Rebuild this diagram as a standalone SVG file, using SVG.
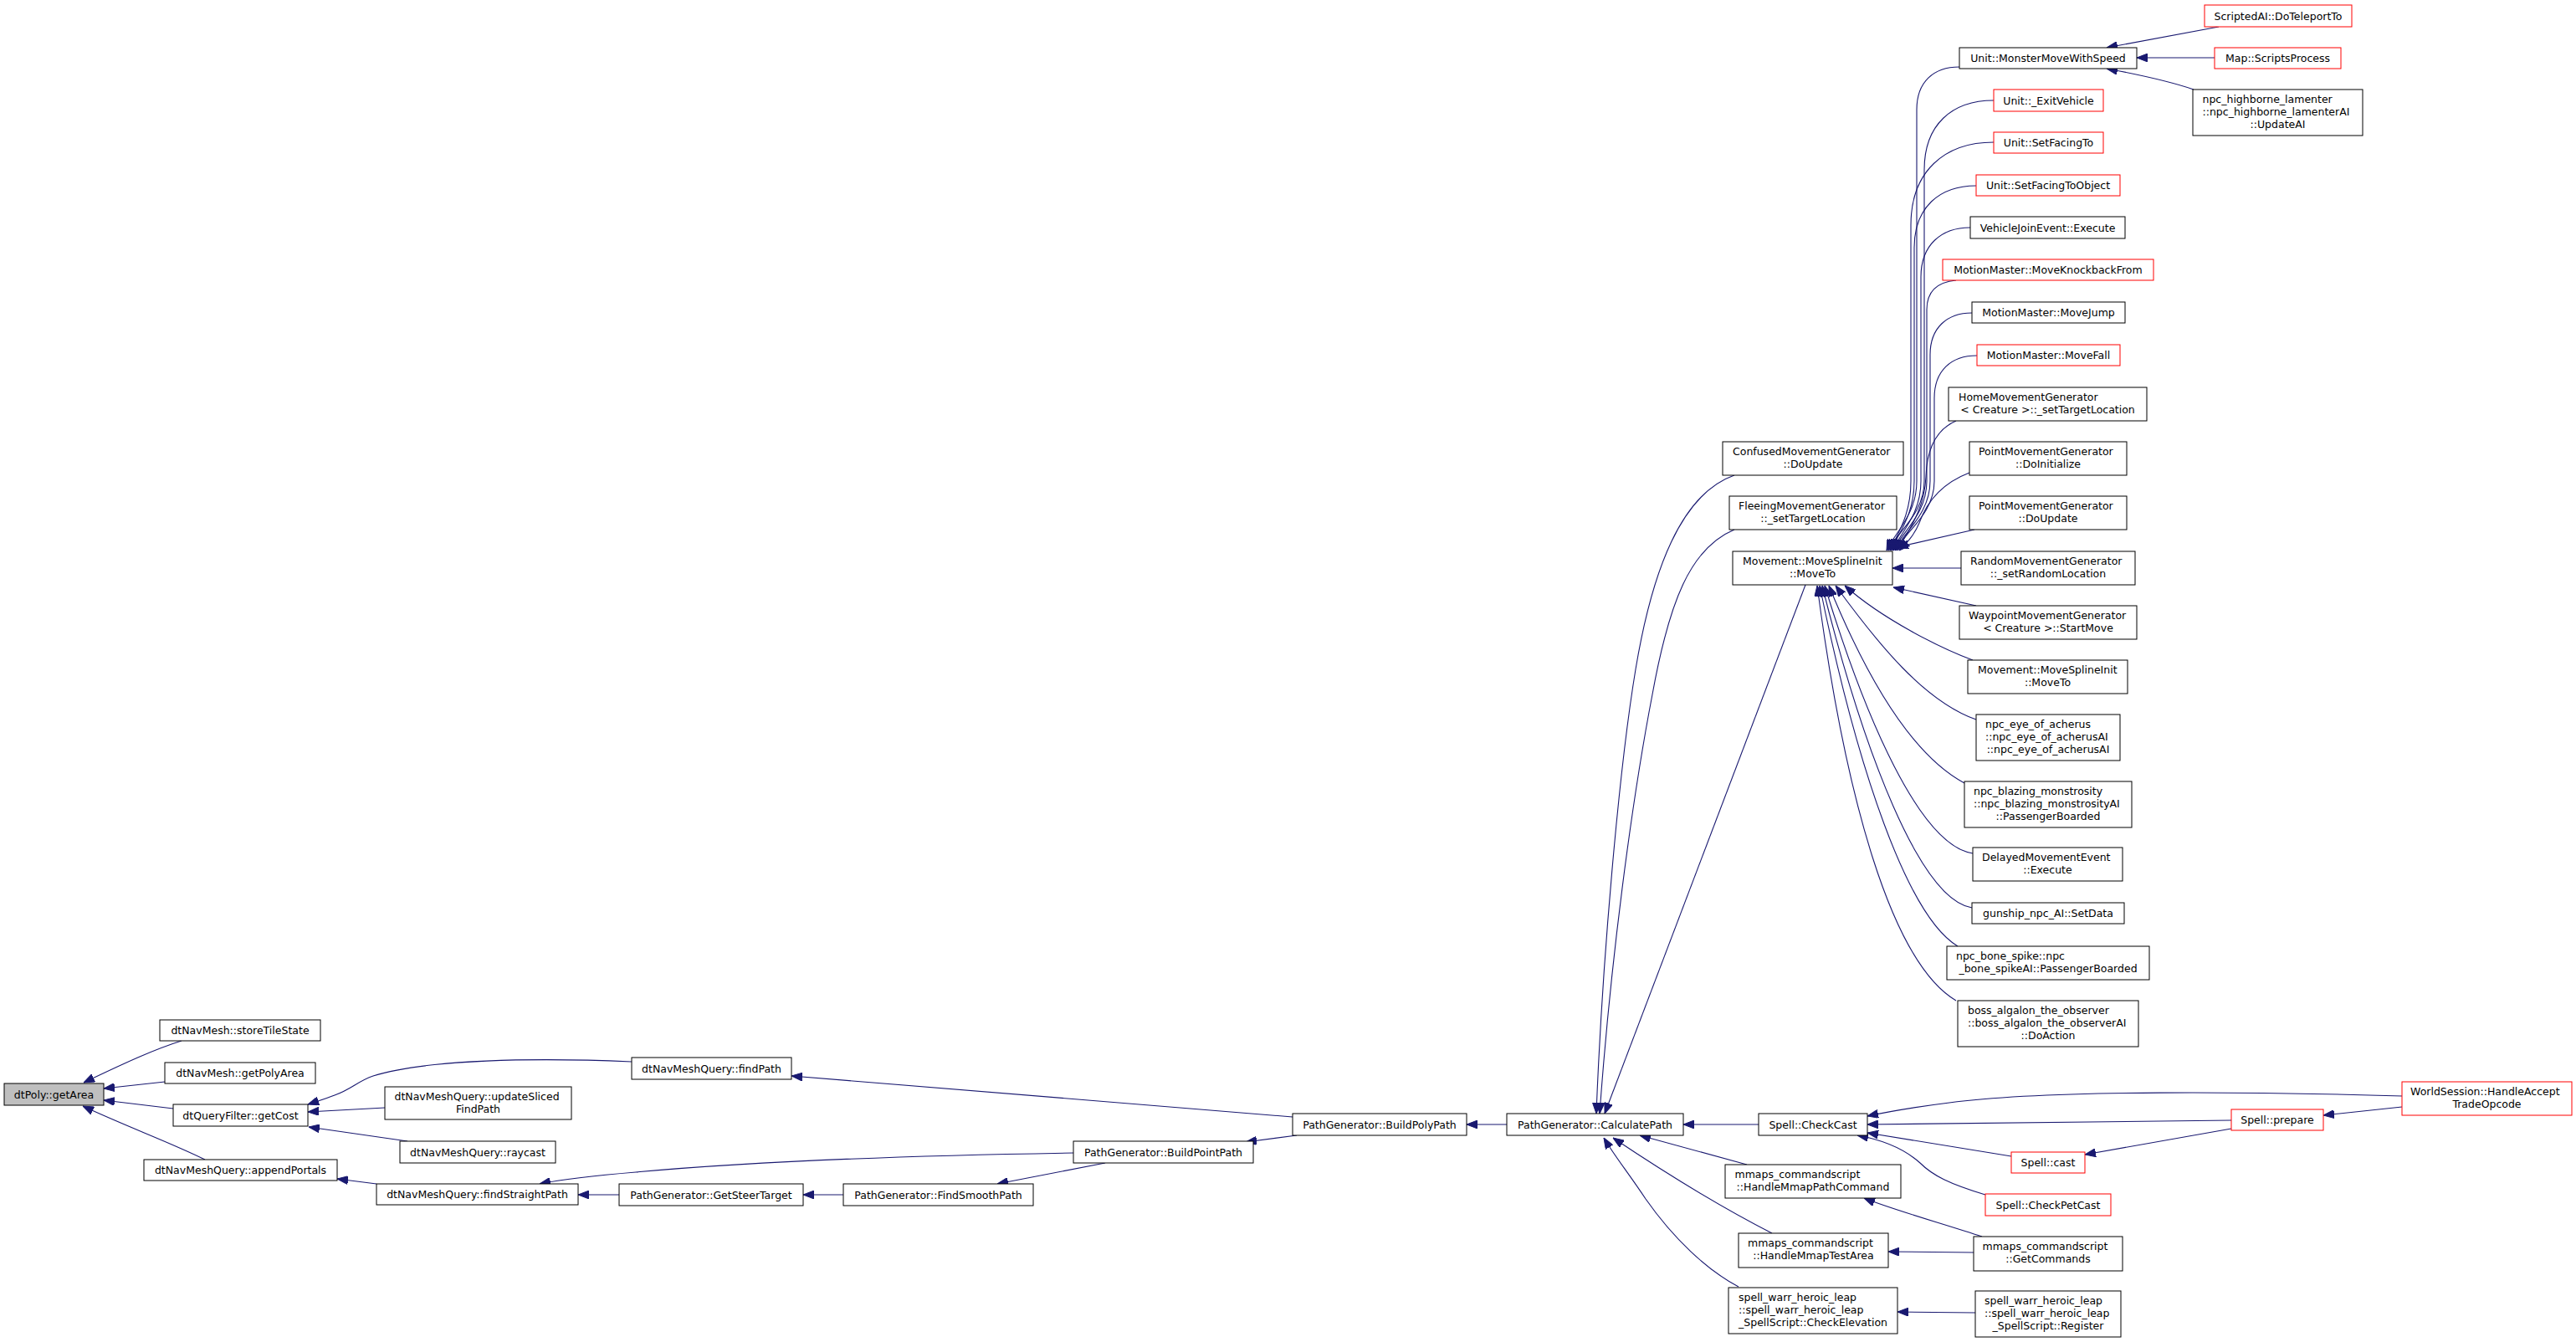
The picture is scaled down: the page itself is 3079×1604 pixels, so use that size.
<svg xmlns="http://www.w3.org/2000/svg" width="3079" height="1604" viewBox="0 0 3079 1604">
<style>
.node rect{fill:#fff;stroke:#000;stroke-width:1}
.node.red rect{stroke:#ff0000}
.node.cur rect{fill:#bfbfbf}
text{font-family:"DejaVu Sans","Liberation Sans",sans-serif;font-size:12.5px;fill:#000}
.m{text-anchor:middle}
.s{text-anchor:start}
#edges path{fill:none;stroke:#191970;stroke-width:1.1;marker-end:url(#arr)}
</style>
<defs>
<marker id="arr" viewBox="0 0 13 10" markerUnits="userSpaceOnUse" markerWidth="13" markerHeight="10" refX="13" refY="5" orient="auto">
<path d="M0,0 L13,5 L0,10 z" fill="#191970" stroke="#191970"/>
</marker>
</defs>
<rect x="0" y="0" width="3079" height="1604" fill="#fff"/>
<g id="edges">
<path d="M217,1244 C185,1254 150,1270 100,1294"/>
<path d="M197,1293 L124,1301"/>
<path d="M207,1325 L124,1315"/>
<path d="M245,1386 C205,1366 150,1346 99,1322"/>
<path d="M755,1269 C640,1264 510,1266 446,1286 C428,1292 420,1302 400,1309 C390,1313 380,1316 368,1320"/>
<path d="M460,1324 L368,1329"/>
<path d="M487,1364 L369,1347"/>
<path d="M450,1415 L403,1409"/>
<path d="M1283,1378 C1100,1381 900,1388 760,1401 C700,1406 670,1410 645,1415"/>
<path d="M740,1428 L691,1428"/>
<path d="M1545,1335 L946,1286"/>
<path d="M1550,1357 L1489,1365"/>
<path d="M1008,1428 L960,1428"/>
<path d="M1321,1390 L1192,1415"/>
<path d="M1801,1344 L1753,1344"/>
<path d="M2102,1344 L2012,1344"/>
<path d="M2073,568 C2010,590 1975,680 1955,800 C1935,920 1915,1150 1908,1331"/>
<path d="M2073,633 C2020,655 1995,720 1975,830 C1950,960 1925,1150 1912,1331"/>
<path d="M2158,699 L1918,1331"/>
<path d="M2088,1392 L1960,1357"/>
<path d="M2118,1474 C2075,1452 2010,1415 1928,1360"/>
<path d="M2078,1538 C2040,1518 2000,1480 1967,1433 C1945,1400 1930,1382 1917,1360"/>
<path d="M2871,1310 C2700,1305 2450,1302 2330,1318 C2290,1323 2260,1328 2232,1334"/>
<path d="M2667,1339 L2232,1344"/>
<path d="M2404,1382 L2232,1354"/>
<path d="M2373,1428 C2330,1415 2310,1405 2295,1390 C2275,1372 2248,1362 2220,1357"/>
<path d="M2871,1323 L2777,1333"/>
<path d="M2667,1349 L2492,1380"/>
<path d="M2369,1478 C2320,1462 2260,1445 2228,1432"/>
<path d="M2359,1497 L2257,1496"/>
<path d="M2361,1569 L2268,1568"/>
<path d="M2652,32 L2518,57"/>
<path d="M2647,69 L2554,69"/>
<path d="M2622,107 C2590,96 2550,88 2518,82"/>
<path d="M2342,80 C2311,80 2291,98 2291,131 L2291,575 C2291,615 2265,636 2255,658"/>
<path d="M2383,120 C2333,120 2300,149 2300,203 L2300,575 C2300,615 2267,636 2257,658"/>
<path d="M2383,170 C2324,170 2284,205 2284,269 L2284,575 C2284,615 2269,636 2259,658"/>
<path d="M2362,222 C2318,222 2288,248 2288,296 L2288,575 C2288,615 2270,636 2260,658"/>
<path d="M2355,272 C2320,272 2296,293 2296,331 L2296,575 C2296,615 2272,636 2262,658"/>
<path d="M2338,335 C2317,337 2303,347 2303,370 L2303,575 C2303,615 2273,636 2263,658"/>
<path d="M2357,374 C2327,374 2307,392 2307,424 L2307,575 C2307,615 2275,636 2265,658"/>
<path d="M2363,425 C2332,425 2312,443 2312,476 L2312,575 C2312,615 2276,636 2266,658"/>
<path d="M2338,503 C2315,513 2303,535 2302,570 C2300,612 2278,638 2268,658"/>
<path d="M2354,565 C2320,578 2303,600 2294,625 C2288,640 2278,650 2270,658"/>
<path d="M2360,633 L2268,654"/>
<path d="M2344,679 L2262,679"/>
<path d="M2362,724 L2263,702"/>
<path d="M2358,789 C2320,775 2250,740 2205,700"/>
<path d="M2362,860 C2300,838 2245,770 2194,700"/>
<path d="M2348,936 C2290,905 2235,820 2186,700"/>
<path d="M2358,1020 C2295,1010 2230,860 2181,700"/>
<path d="M2357,1085 C2295,1075 2228,900 2178,700"/>
<path d="M2340,1131 C2280,1095 2220,920 2175,700"/>
<path d="M2338,1196 C2260,1150 2205,950 2172,700"/>
</g>
<g id="n_getArea" class="node cur"><rect x="5" y="1295" width="119" height="26"/><text class="m" x="64.5" y="1312.5">dtPoly::getArea</text></g>
<g id="n_storeTileState" class="node"><rect x="191" y="1219" width="192" height="25"/><text class="m" x="287" y="1236">dtNavMesh::storeTileState</text></g>
<g id="n_getPolyArea" class="node"><rect x="197" y="1270" width="180" height="25"/><text class="m" x="287" y="1287">dtNavMesh::getPolyArea</text></g>
<g id="n_getCost" class="node"><rect x="207" y="1320" width="161" height="26"/><text class="m" x="287.5" y="1337.5">dtQueryFilter::getCost</text></g>
<g id="n_appendPortals" class="node"><rect x="172" y="1386" width="231" height="25"/><text class="m" x="287.5" y="1403">dtNavMeshQuery::appendPortals</text></g>
<g id="n_updateSliced" class="node"><rect x="460" y="1299" width="223" height="39"/><text class="s" x="471.5" y="1315">dtNavMeshQuery::updateSliced</text><text class="m" x="571.5" y="1330">FindPath</text></g>
<g id="n_raycast" class="node"><rect x="478" y="1364" width="186" height="26"/><text class="m" x="571" y="1381.5">dtNavMeshQuery::raycast</text></g>
<g id="n_findStraightPath" class="node"><rect x="450" y="1415" width="241" height="25"/><text class="m" x="570.5" y="1432">dtNavMeshQuery::findStraightPath</text></g>
<g id="n_findPath" class="node"><rect x="755" y="1264" width="191" height="26"/><text class="m" x="850.5" y="1281.5">dtNavMeshQuery::findPath</text></g>
<g id="n_BuildPolyPath" class="node"><rect x="1545" y="1331" width="208" height="26"/><text class="m" x="1649" y="1348.5">PathGenerator::BuildPolyPath</text></g>
<g id="n_BuildPointPath" class="node"><rect x="1283" y="1364" width="215" height="26"/><text class="m" x="1390.5" y="1381.5">PathGenerator::BuildPointPath</text></g>
<g id="n_GetSteerTarget" class="node"><rect x="740" y="1415" width="220" height="26"/><text class="m" x="850" y="1432.5">PathGenerator::GetSteerTarget</text></g>
<g id="n_FindSmoothPath" class="node"><rect x="1008" y="1415" width="227" height="26"/><text class="m" x="1121.5" y="1432.5">PathGenerator::FindSmoothPath</text></g>
<g id="n_CalculatePath" class="node"><rect x="1801" y="1331" width="211" height="26"/><text class="m" x="1906.5" y="1348.5">PathGenerator::CalculatePath</text></g>
<g id="n_CheckCast" class="node"><rect x="2102" y="1331" width="130" height="26"/><text class="m" x="2167" y="1348.5">Spell::CheckCast</text></g>
<g id="n_HandleAcceptTrade" class="node red"><rect x="2871" y="1293" width="203" height="40"/><text class="s" x="2881" y="1309">WorldSession::HandleAccept</text><text class="m" x="2972.5" y="1324">TradeOpcode</text></g>
<g id="n_prepare" class="node red"><rect x="2667" y="1326" width="110" height="25"/><text class="m" x="2722" y="1343">Spell::prepare</text></g>
<g id="n_cast" class="node red"><rect x="2404" y="1377" width="88" height="25"/><text class="m" x="2448" y="1394">Spell::cast</text></g>
<g id="n_CheckPetCast" class="node red"><rect x="2373" y="1427" width="150" height="26"/><text class="m" x="2448" y="1444.5">Spell::CheckPetCast</text></g>
<g id="n_HandleMmapPath" class="node"><rect x="2062" y="1392" width="210" height="40"/><text class="s" x="2073.5" y="1408">mmaps_commandscript</text><text class="m" x="2167" y="1423">::HandleMmapPathCommand</text></g>
<g id="n_HandleMmapTestArea" class="node"><rect x="2078" y="1474" width="179" height="41"/><text class="s" x="2089" y="1490">mmaps_commandscript</text><text class="m" x="2167.5" y="1505">::HandleMmapTestArea</text></g>
<g id="n_GetCommands" class="node"><rect x="2359" y="1478" width="178" height="41"/><text class="s" x="2369.5" y="1494">mmaps_commandscript</text><text class="m" x="2448" y="1509">::GetCommands</text></g>
<g id="n_CheckElevation" class="node"><rect x="2066" y="1539" width="202" height="55"/><text class="s" x="2078" y="1555">spell_warr_heroic_leap</text><text class="s" x="2078" y="1570">::spell_warr_heroic_leap</text><text class="m" x="2167" y="1585">_SpellScript::CheckElevation</text></g>
<g id="n_Register" class="node"><rect x="2361" y="1543" width="174" height="55"/><text class="s" x="2372" y="1559">spell_warr_heroic_leap</text><text class="s" x="2372" y="1574">::spell_warr_heroic_leap</text><text class="m" x="2448" y="1589">_SpellScript::Register</text></g>
<g id="n_Confused" class="node"><rect x="2059" y="528" width="216" height="40"/><text class="s" x="2071" y="544">ConfusedMovementGenerator</text><text class="m" x="2167" y="559">::DoUpdate</text></g>
<g id="n_Fleeing" class="node"><rect x="2067" y="593" width="200" height="40"/><text class="s" x="2078" y="609">FleeingMovementGenerator</text><text class="m" x="2167" y="624">::_setTargetLocation</text></g>
<g id="n_MoveToL" class="node"><rect x="2071" y="659" width="191" height="40"/><text class="s" x="2083" y="675">Movement::MoveSplineInit</text><text class="m" x="2166.5" y="690">::MoveTo</text></g>
<g id="n_PointDoInit" class="node"><rect x="2354" y="528" width="188" height="40"/><text class="s" x="2365" y="544">PointMovementGenerator</text><text class="m" x="2448" y="559">::DoInitialize</text></g>
<g id="n_PointDoUpdate" class="node"><rect x="2354" y="593" width="188" height="40"/><text class="s" x="2365" y="609">PointMovementGenerator</text><text class="m" x="2448" y="624">::DoUpdate</text></g>
<g id="n_Random" class="node"><rect x="2344" y="659" width="208" height="40"/><text class="s" x="2355" y="675">RandomMovementGenerator</text><text class="m" x="2448" y="690">::_setRandomLocation</text></g>
<g id="n_Waypoint" class="node"><rect x="2342" y="724" width="212" height="40"/><text class="s" x="2353" y="740">WaypointMovementGenerator</text><text class="m" x="2448" y="755">&lt; Creature &gt;::StartMove</text></g>
<g id="n_MoveToR" class="node"><rect x="2352" y="789" width="191" height="40"/><text class="s" x="2364" y="805">Movement::MoveSplineInit</text><text class="m" x="2447.5" y="820">::MoveTo</text></g>
<g id="n_npcEye" class="node"><rect x="2362" y="854" width="172" height="55"/><text class="s" x="2373" y="870">npc_eye_of_acherus</text><text class="s" x="2373" y="885">::npc_eye_of_acherusAI</text><text class="m" x="2448" y="900">::npc_eye_of_acherusAI</text></g>
<g id="n_npcBlazing" class="node"><rect x="2348" y="934" width="200" height="55"/><text class="s" x="2359" y="950">npc_blazing_monstrosity</text><text class="s" x="2359" y="965">::npc_blazing_monstrosityAI</text><text class="m" x="2448" y="980">::PassengerBoarded</text></g>
<g id="n_Delayed" class="node"><rect x="2358" y="1013" width="179" height="40"/><text class="s" x="2369" y="1029">DelayedMovementEvent</text><text class="m" x="2447.5" y="1044">::Execute</text></g>
<g id="n_gunship" class="node"><rect x="2357" y="1079" width="182" height="25"/><text class="m" x="2448" y="1096">gunship_npc_AI::SetData</text></g>
<g id="n_boneSpike" class="node"><rect x="2327" y="1131" width="242" height="40"/><text class="s" x="2338" y="1147">npc_bone_spike::npc</text><text class="m" x="2448" y="1162">_bone_spikeAI::PassengerBoarded</text></g>
<g id="n_boss" class="node"><rect x="2340" y="1196" width="216" height="55"/><text class="s" x="2352" y="1212">boss_algalon_the_observer</text><text class="s" x="2352" y="1227">::boss_algalon_the_observerAI</text><text class="m" x="2448" y="1242">::DoAction</text></g>
<g id="n_DoTeleportTo" class="node red"><rect x="2635" y="6" width="176" height="26"/><text class="m" x="2723" y="23.5">ScriptedAI::DoTeleportTo</text></g>
<g id="n_MonsterMove" class="node"><rect x="2342" y="57" width="212" height="25"/><text class="m" x="2448" y="74">Unit::MonsterMoveWithSpeed</text></g>
<g id="n_ScriptsProcess" class="node red"><rect x="2647" y="57" width="151" height="25"/><text class="m" x="2722.5" y="74">Map::ScriptsProcess</text></g>
<g id="n_highborne" class="node"><rect x="2621" y="107" width="203" height="55"/><text class="s" x="2632.5" y="123">npc_highborne_lamenter</text><text class="s" x="2632.5" y="138">::npc_highborne_lamenterAI</text><text class="m" x="2722.5" y="153">::UpdateAI</text></g>
<g id="n_ExitVehicle" class="node red"><rect x="2383" y="107" width="131" height="26"/><text class="m" x="2448.5" y="124.5">Unit::_ExitVehicle</text></g>
<g id="n_SetFacingTo" class="node red"><rect x="2383" y="158" width="131" height="25"/><text class="m" x="2448.5" y="175">Unit::SetFacingTo</text></g>
<g id="n_SetFacingToObject" class="node red"><rect x="2362" y="209" width="172" height="25"/><text class="m" x="2448" y="226">Unit::SetFacingToObject</text></g>
<g id="n_VehicleJoin" class="node"><rect x="2355" y="259" width="185" height="26"/><text class="m" x="2447.5" y="276.5">VehicleJoinEvent::Execute</text></g>
<g id="n_Knockback" class="node red"><rect x="2322" y="310" width="252" height="25"/><text class="m" x="2448" y="327">MotionMaster::MoveKnockbackFrom</text></g>
<g id="n_MoveJump" class="node"><rect x="2357" y="361" width="183" height="25"/><text class="m" x="2448.5" y="378">MotionMaster::MoveJump</text></g>
<g id="n_MoveFall" class="node red"><rect x="2363" y="412" width="171" height="25"/><text class="m" x="2448.5" y="429">MotionMaster::MoveFall</text></g>
<g id="n_Home" class="node"><rect x="2329" y="463" width="237" height="40"/><text class="s" x="2341" y="479">HomeMovementGenerator</text><text class="m" x="2447.5" y="494">&lt; Creature &gt;::_setTargetLocation</text></g>
</svg>
